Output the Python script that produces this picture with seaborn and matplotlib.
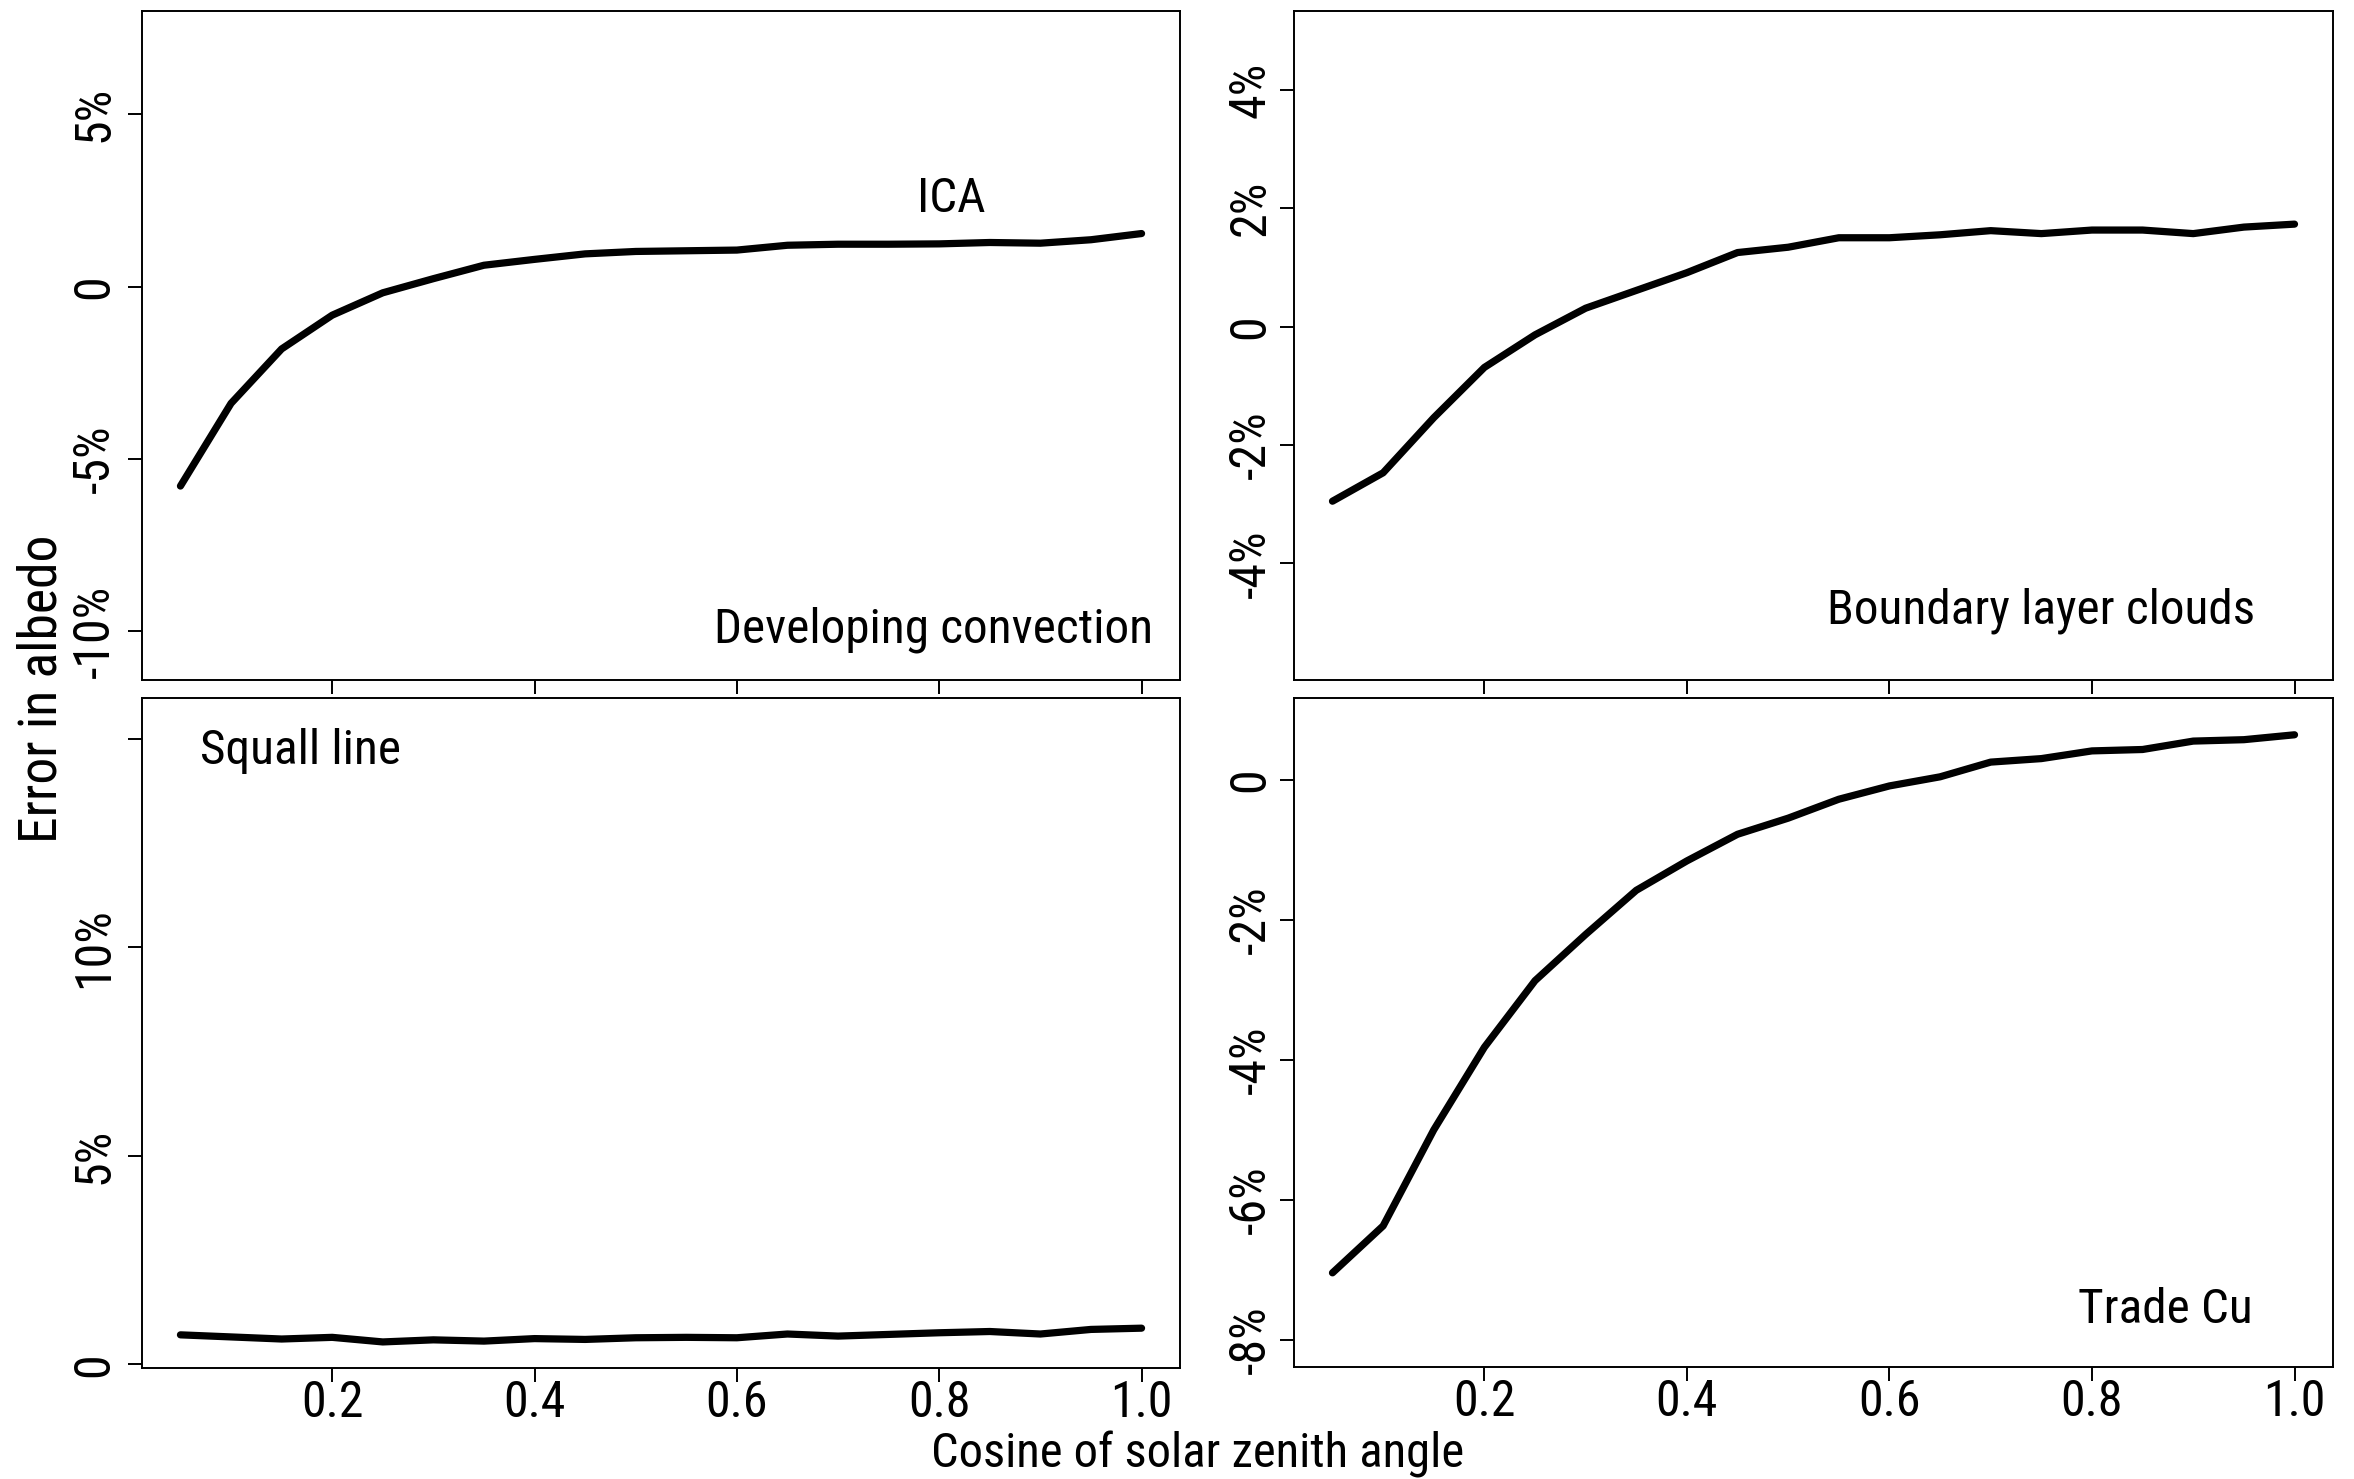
import numpy as np
import pandas as pd
import matplotlib
matplotlib.use("Agg")
import matplotlib.pyplot as plt
from matplotlib import font_manager
import seaborn as sns

# ---------------- data (albedo error, %) ----------------
cosz = [0.05, 0.10, 0.15, 0.20, 0.25, 0.30, 0.35, 0.40, 0.45, 0.50,
        0.55, 0.60, 0.65, 0.70, 0.75, 0.80, 0.85, 0.90, 0.95, 1.00]
developing = [-5.79, -3.39, -1.81, -0.83, -0.18, 0.23, 0.62, 0.79, 0.95, 1.02,
              1.04, 1.06, 1.20, 1.23, 1.23, 1.24, 1.28, 1.26, 1.36, 1.54]
boundary = [-2.95, -2.47, -1.54, -0.69, -0.14, 0.31, 0.61, 0.91, 1.25, 1.34,
            1.50, 1.50, 1.55, 1.62, 1.57, 1.63, 1.63, 1.57, 1.68, 1.73]
squall = [0.71, 0.66, 0.61, 0.65, 0.54, 0.59, 0.56, 0.62, 0.60, 0.64,
          0.65, 0.64, 0.73, 0.68, 0.72, 0.76, 0.79, 0.73, 0.84, 0.87]
trade = [-7.04, -6.37, -5.00, -3.82, -2.87, -2.21, -1.58, -1.16, -0.78, -0.55,
         -0.28, -0.09, 0.04, 0.25, 0.30, 0.41, 0.43, 0.55, 0.57, 0.64]

x_ticks = [0.2, 0.4, 0.6, 0.8, 1.0]
x_ticklabels = ["0.2", "0.4", "0.6", "0.8", "1.0"]

dev_yticks = [-10, -5, 0, 5]
dev_ylabels = ["-10%", "-5%", "0", "5%"]
blc_yticks = [-4, -2, 0, 2, 4]
blc_ylabels = ["-4%", "-2%", "0", "2%", "4%"]
sq_yticks = [0, 5, 10, 15]
sq_ylabels = ["0", "5%", "10%", ""]
tc_yticks = [-8, -6, -4, -2, 0]
tc_ylabels = ["-8%", "-6%", "-4%", "-2%", "0"]

panel_names = ["Developing convection", "Boundary layer clouds", "Squall line", "Trade Cu"]
curve_label = "ICA"
xlabel = "Cosine of solar zenith angle"
ylabel = "Error in albedo"

# ---------------- style ----------------
sns.set_theme(style="white")
names = {f.name for f in font_manager.fontManager.ttflist}
k = 1.0
for cand in ["Liberation Sans Narrow", "Roboto Condensed", "Open Sans Condensed"]:
    if cand in names:
        fam = cand
        break
else:
    fam = "Liberation Sans"
    k = 0.85
plt.rcParams["font.family"] = [fam, "DejaVu Sans"]

W, H = 2354, 1479
fig = plt.figure(figsize=(W / 100, H / 100), dpi=100)
fig.patch.set_facecolor("white")

def px_axes(x0, y0, x1, y1):
    return fig.add_axes([x0 / W, 1 - y1 / H, (x1 - x0) / W, (y1 - y0) / H])

axes = {
    "dev": px_axes(142, 11, 1180, 680),
    "blc": px_axes(1294, 11, 2333, 680),
    "sq": px_axes(142, 698, 1180, 1368),
    "tc": px_axes(1294, 698, 2333, 1367),
}

specs = {
    "dev": (developing, (-11.42, 8.0), dev_yticks, dev_ylabels, False, 7),
    "blc": (boundary, (-5.97, 5.33), blc_yticks, blc_ylabels, False, 4),
    "sq": (squall, (-0.085, 15.98), sq_yticks, sq_ylabels, True, 7),
    "tc": (trade, (-8.384, 1.165), tc_yticks, tc_ylabels, True, 4),
}

tick_fs = 36 * k
for key, ax in axes.items():
    vals, ylim, yt, yl, showx, ypad = specs[key]
    df = pd.DataFrame({"cosz": cosz, "err": vals})
    sns.lineplot(data=df, x="cosz", y="err", ax=ax, color="black", lw=5.2,
                 estimator=None, solid_capstyle="round", solid_joinstyle="round")
    ax.set_xlim(0.012, 1.038)
    ax.set_ylim(*ylim)
    ax.set_xticks(x_ticks)
    ax.set_xticklabels(x_ticklabels if showx else [""] * len(x_ticks))
    ax.set_yticks(yt)
    ax.set_yticklabels(yl)
    ax.set_xlabel("")
    ax.set_ylabel("")
    ax.set_facecolor("white")
    for s in ax.spines.values():
        s.set_visible(True)
        s.set_color("black")
        s.set_linewidth(1.4)
    ax.tick_params(axis="both", which="both", direction="out", length=10, width=1.4,
                   color="black", labelcolor="black", labelsize=tick_fs,
                   bottom=True, left=True, top=False, right=False)
    ax.tick_params(axis="x", pad=-2)
    ax.tick_params(axis="y", pad=ypad, labelrotation=90)
    for lab in ax.get_yticklabels():
        lab.set_va("center")
    ax.grid(False)

ann_fs = 35.5 * k
axes["dev"].text(0.780, 0.700, curve_label, transform=axes["dev"].transAxes,
                 ha="center", va="baseline", fontsize=ann_fs, color="black")
axes["dev"].text(0.974, 0.056, panel_names[0], transform=axes["dev"].transAxes,
                 ha="right", va="baseline", fontsize=ann_fs, color="black")
axes["blc"].text(0.925, 0.085, panel_names[1], transform=axes["blc"].transAxes,
                 ha="right", va="baseline", fontsize=ann_fs, color="black")
axes["sq"].text(0.056, 0.901, panel_names[2], transform=axes["sq"].transAxes,
                ha="left", va="baseline", fontsize=ann_fs, color="black")
axes["tc"].text(0.923, 0.066, panel_names[3], transform=axes["tc"].transAxes,
                ha="right", va="baseline", fontsize=ann_fs, color="black")

fig.text(1198 / W, 1 - 1468 / H, xlabel, ha="center", va="baseline",
         fontsize=35 * k, color="black")
fig.text(42 / W, 1 - 689 / H, ylabel, ha="center", va="center", rotation=90,
         fontsize=38.5 * k, color="black")

fig.savefig("out.png", dpi=100, facecolor="white")
